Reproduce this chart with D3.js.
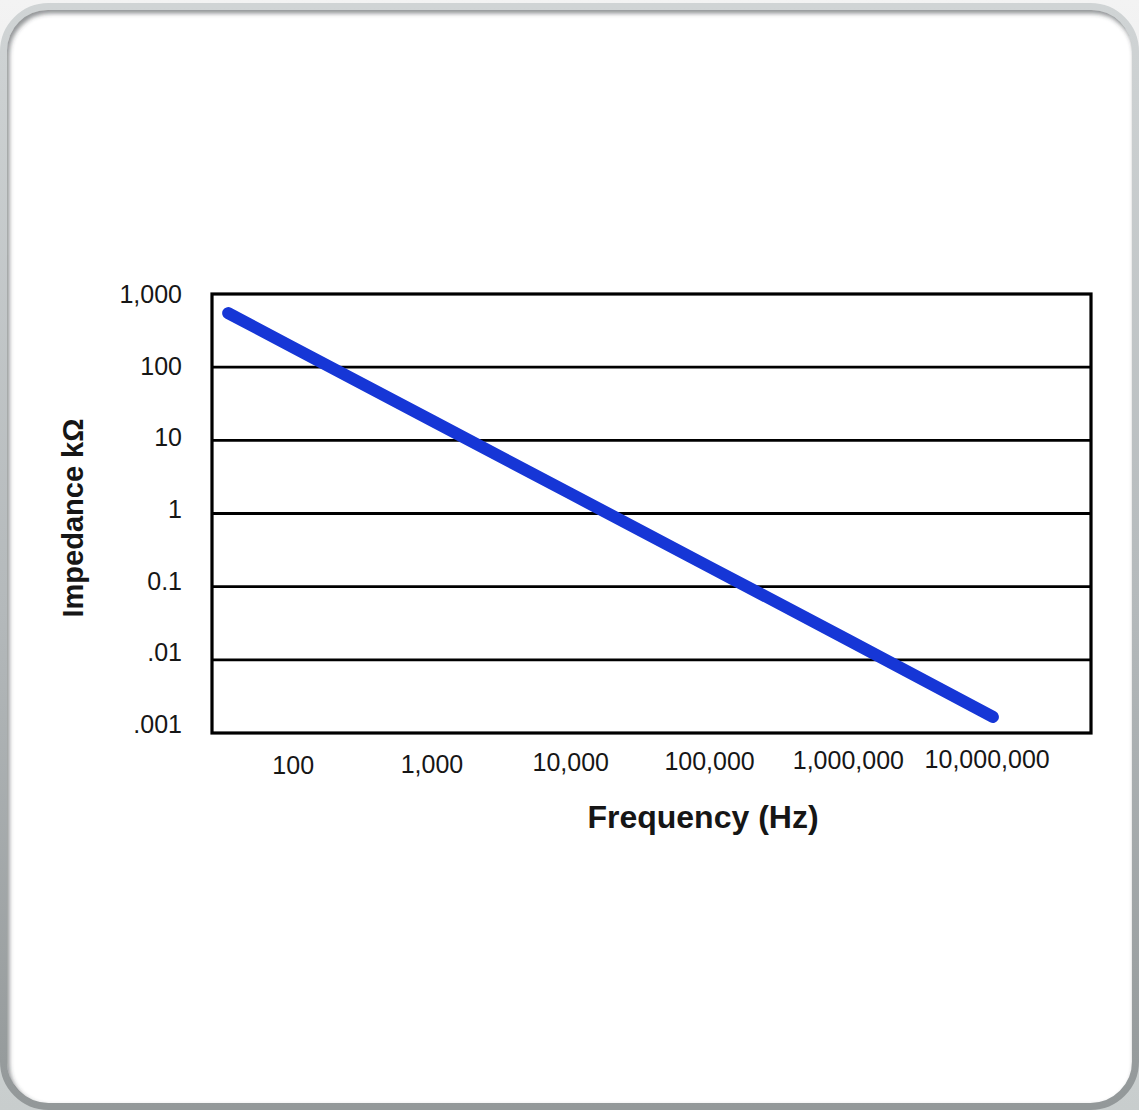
<!DOCTYPE html>
<html>
<head>
<meta charset="utf-8">
<script src="https://cdn.jsdelivr.net/npm/d3@7"></script>
<style>
  html, body { margin: 0; padding: 0; background: #f0f0f0; overflow: hidden; }
  svg { display: block; }
  text { font-family: "Liberation Sans", Arial, sans-serif; fill: #161616; }
</style>
</head>
<body>
<div id="chart"></div>
<script>
// values (impedance in kΩ)
const frequency = [34, 100, 1000, 10000, 100000, 1000000, 11000000]
const impedance = [548, 186, 18.6, 1.86, 0.186, 0.0186, 0.00166]

const xTicks = [100, 1000, 10000, 100000, 1000000, 10000000]
const xTickLabels = ['100', '1,000', '10,000', '100,000', '1,000,000', '10,000,000']
const yTicks = [1000, 100, 10, 1, 0.1, 0.01, 0.001]
const yTickLabels = ['1,000', '100', '10', '1', '0.1', '.01', '.001']

const xDomain = [26, 56000000]
const yDomain = [0.001, 1000]

const width = 1139,
    height = 1110

let plot = {
    left: 212,
    right: 1091,
    top: 294,
    bottom: 733
}

let svg = d3.select('#chart')
    .append('svg')
    .attr('width', width)
    .attr('height', height)

let defs = svg.append('defs')

// page background + frame gradients
let bg = defs.append('linearGradient')
    .attr('id', 'bg')
    .attr('x1', 0).attr('y1', 0).attr('x2', 0).attr('y2', 1)
bg.append('stop').attr('offset', '0%').attr('stop-color', '#f3f3f3')
bg.append('stop').attr('offset', '100%').attr('stop-color', '#c8cdcd')

let rim = defs.append('linearGradient')
    .attr('id', 'rim')
    .attr('x1', 0).attr('y1', 0).attr('x2', 0).attr('y2', 1)
rim.append('stop').attr('offset', '0%').attr('stop-color', '#d0d4d5')
rim.append('stop').attr('offset', '55%').attr('stop-color', '#b4b9bb')
rim.append('stop').attr('offset', '100%').attr('stop-color', '#939899')

defs.append('filter')
    .attr('id', 'blur')
    .append('feGaussianBlur')
    .attr('stdDeviation', 2.2)

defs.append('clipPath')
    .attr('id', 'inner')
    .append('rect')
    .attr('x', 7).attr('y', 10)
    .attr('width', 1125).attr('height', 1093)
    .attr('rx', 41)

svg.append('rect')
    .attr('width', width)
    .attr('height', height)
    .attr('fill', 'url(#bg)')

svg.append('rect')
    .attr('x', 3.5).attr('y', 6.5)
    .attr('width', 1132).attr('height', 1100)
    .attr('rx', 45)
    .attr('fill', '#ffffff')
    .attr('stroke', 'url(#rim)')
    .attr('stroke-width', 7)

// inset shadow on top / left edge
svg.append('g')
    .attr('clip-path', 'url(#inner)')
    .append('rect')
    .attr('x', 3.5).attr('y', 6.5)
    .attr('width', 1132).attr('height', 1100)
    .attr('rx', 45)
    .attr('fill', 'none')
    .attr('stroke', '#3a3f42')
    .attr('stroke-opacity', 0.55)
    .attr('stroke-width', 8)
    .attr('transform', 'translate(2,3)')
    .attr('filter', 'url(#blur)')

// scales
let x = d3.scaleLog()
    .domain(xDomain)
    .range([plot.left, plot.right])

let y = d3.scaleLog()
    .domain(yDomain)
    .range([plot.bottom, plot.top])

// the printed labels drift a little from the grid
let yLabel = y.copy().range([724, 294])
let xLabelY = d3.scaleLog()
    .domain([xTicks[0], xTicks[xTicks.length - 1]])
    .range([765, 758.5])

// grid
svg.append('g')
    .selectAll('line')
    .data(yTicks.slice(1, -1))
    .join('line')
    .attr('x1', plot.left)
    .attr('x2', plot.right)
    .attr('y1', d => y(d))
    .attr('y2', d => y(d))
    .attr('stroke', '#000')
    .attr('stroke-width', 2.8)

svg.append('rect')
    .attr('x', plot.left)
    .attr('y', plot.top)
    .attr('width', plot.right - plot.left)
    .attr('height', plot.bottom - plot.top)
    .attr('fill', 'none')
    .attr('stroke', '#000')
    .attr('stroke-width', 3.2)

// tick labels
svg.append('g')
    .selectAll('text')
    .data(yTicks)
    .join('text')
    .attr('x', 182)
    .attr('y', d => yLabel(d))
    .attr('dy', '0.36em')
    .attr('text-anchor', 'end')
    .style('font-size', '25px')
    .text((d, i) => yTickLabels[i])

svg.append('g')
    .selectAll('text')
    .data(xTicks)
    .join('text')
    .attr('x', d => x(d))
    .attr('y', d => xLabelY(d))
    .attr('dy', '0.36em')
    .attr('text-anchor', 'middle')
    .style('font-size', '25px')
    .text((d, i) => xTickLabels[i])

// impedance curve
let points = frequency.map((f, i) => ({f: f, z: impedance[i]}))

let line = d3.line()
    .x(d => x(d.f))
    .y(d => y(d.z))

svg.append('path')
    .datum(points)
    .attr('d', line)
    .attr('fill', 'none')
    .attr('stroke', '#1636d6')
    .attr('stroke-width', 12)
    .attr('stroke-linecap', 'round')
    .attr('stroke-linejoin', 'round')

// axis titles
svg.append('text')
    .attr('x', 703)
    .attr('y', 828)
    .attr('text-anchor', 'middle')
    .style('font-size', '32px')
    .style('font-weight', 'bold')
    .text('Frequency (Hz)')

svg.append('text')
    .attr('transform', 'translate(83,518) rotate(-90)')
    .attr('text-anchor', 'middle')
    .style('font-size', '29px')
    .style('font-weight', 'bold')
    .text('Impedance kΩ')
</script>
</body>
</html>
